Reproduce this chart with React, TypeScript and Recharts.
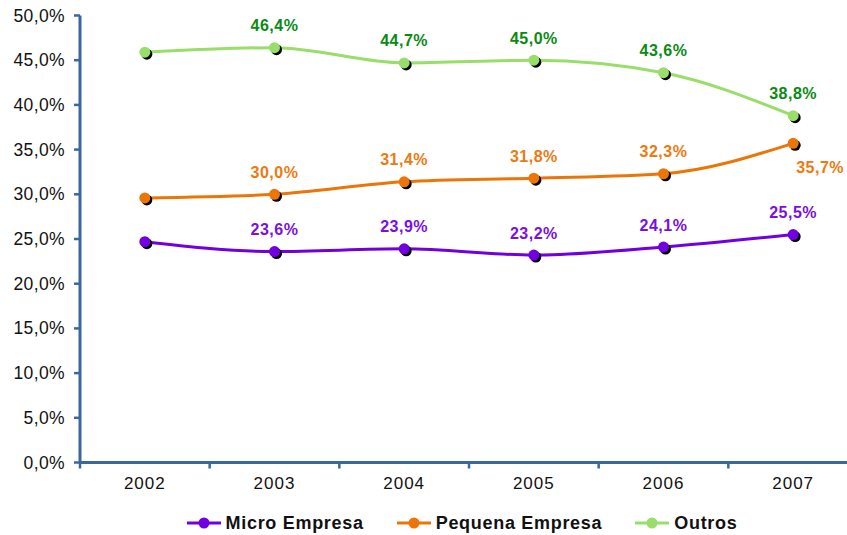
import React from 'react';
import {
  CartesianGrid,
  LabelList,
  Legend,
  Line,
  LineChart,
  XAxis,
  YAxis,
} from 'recharts';

const years = ['2002', '2003', '2004', '2005', '2006', '2007'];
const microEmpresa = [24.7, 23.6, 23.9, 23.2, 24.1, 25.5];
const pequenaEmpresa = [29.6, 30.0, 31.4, 31.8, 32.3, 35.7];
const outros = [45.9, 46.4, 44.7, 45.0, 43.6, 38.8];
const yTicks = [0, 5, 10, 15, 20, 25, 30, 35, 40, 45, 50];

const data = years.map((year, i) => ({
  year,
  micro: microEmpresa[i],
  pequena: pequenaEmpresa[i],
  outros: outros[i],
}));

const CHART_W = 858;
const CHART_H = 535;
const Y_AXIS_W = 80;
const AXIS_COLOR = '#3a679c';
const FONT = '"Liberation Sans", Arial, sans-serif';
const bandWidth = (CHART_W - Y_AXIS_W) / years.length;

const series = [
  { key: 'micro', name: 'Micro Empresa', line: '#7000e0', label: '#7a10e0' },
  { key: 'pequena', name: 'Pequena Empresa', line: '#ec7508', label: '#ec7a10' },
  { key: 'outros', name: 'Outros', line: '#99dd6a', label: '#0a8a14' },
];

const fmt = (v: number) => `${v.toFixed(1).replace('.', ',')}%`;

// dot with a small black drop shadow underneath
const shadowDot = (color: string) => (props: any) => {
  const { cx, cy, index } = props;
  if (cx == null || cy == null) return <g key={index} />;
  return (
    <g key={index}>
      <circle cx={cx + 2} cy={cy + 2} r={5.5} fill="#000" />
      <circle cx={cx} cy={cy} r={5.5} fill={color} />
    </g>
  );
};

// value labels: skip first year; the last orange one sits below-right
const valueLabel = (color: string, key: string) => (props: any) => {
  const { x, y, value, index } = props;
  if (index === 0) return null;
  let dx = 0;
  let dy = -22;
  if (key === 'pequena' && index === years.length - 1) {
    dx = 27;
    dy = 24;
  }
  return (
    <text
      x={x + dx}
      y={y + dy}
      textAnchor="middle"
      dominantBaseline="central"
      fill={color}
      fontFamily={FONT}
      fontWeight="bold"
      fontSize={16}
      letterSpacing={0.5}
    >
      {fmt(value)}
    </text>
  );
};

// category label centred in the band, tick marks on band edges
const YearTick = (props: any) => {
  const { x, y, payload } = props;
  const left = x - bandWidth / 2;
  return (
    <g>
      <line x1={left} y1={y} x2={left} y2={y + 6} stroke={AXIS_COLOR} strokeWidth={2.5} />
      <text
        x={x}
        y={y + 21}
        textAnchor="middle"
        dominantBaseline="central"
        fill="#111"
        fontFamily={FONT}
        fontSize={17}
        letterSpacing={1}
      >
        {payload.value}
      </text>
    </g>
  );
};

const ValueTick = (props: any) => {
  const { x, y, payload } = props;
  return (
    <text
      x={x}
      y={y}
      textAnchor="end"
      dominantBaseline="central"
      fill="#111"
      fontFamily={FONT}
      fontSize={17.5}
      letterSpacing={0.4}
    >
      {fmt(payload.value)}
    </text>
  );
};

const LegendContent = () => (
  <div
    style={{
      width: CHART_W,
      height: 40,
      boxSizing: 'border-box',
      paddingTop: 16,
      paddingLeft: 66,
      display: 'flex',
      justifyContent: 'center',
      alignItems: 'center',
      gap: 33,
      fontFamily: FONT,
      fontWeight: 'bold',
      fontSize: 18,
      color: '#111',
    }}
  >
    {series.map((s) => (
      <div key={s.key} style={{ display: 'flex', alignItems: 'center', gap: 5 }}>
        <svg width={34} height={14}>
          <line x1={0} y1={7} x2={34} y2={7} stroke={s.line} strokeWidth={3} />
          <circle cx={17} cy={7} r={5.5} fill={s.line} />
        </svg>
        <span style={{ letterSpacing: 0.7 }}>{s.name}</span>
      </div>
    ))}
  </div>
);

export default function App() {
  return (
    <div
      style={{
        position: 'absolute',
        left: 0,
        top: 0,
        width: 847,
        height: CHART_H,
        overflow: 'hidden',
        background: '#fff',
      }}
    >
      <LineChart
        width={CHART_W}
        height={CHART_H}
        data={data}
        margin={{ top: 15.5, right: 0, left: 0, bottom: 0 }}
      >
        <CartesianGrid stroke="none" />
        <XAxis
          dataKey="year"
          scale="band"
          height={32.5}
          axisLine={{ stroke: AXIS_COLOR, strokeWidth: 3 }}
          tickLine={false}
          tickSize={0}
          tickMargin={0}
          tick={<YearTick />}
          interval={0}
        />
        <YAxis
          width={Y_AXIS_W}
          domain={[0, 50]}
          ticks={yTicks}
          axisLine={{ stroke: AXIS_COLOR, strokeWidth: 3 }}
          tickLine={{ stroke: AXIS_COLOR, strokeWidth: 2.5 }}
          tickSize={6}
          tickMargin={9}
          tick={<ValueTick />}
        />
        <Legend verticalAlign="bottom" height={40} content={<LegendContent />} />
        {series.map((s) => (
          <Line
            key={s.key}
            dataKey={s.key}
            name={s.name}
            type="monotone"
            stroke={s.line}
            strokeWidth={3}
            dot={shadowDot(s.line)}
            activeDot={false}
            isAnimationActive={false}
          >
            <LabelList dataKey={s.key} content={valueLabel(s.label, s.key)} />
          </Line>
        ))}
      </LineChart>
    </div>
  );
}
